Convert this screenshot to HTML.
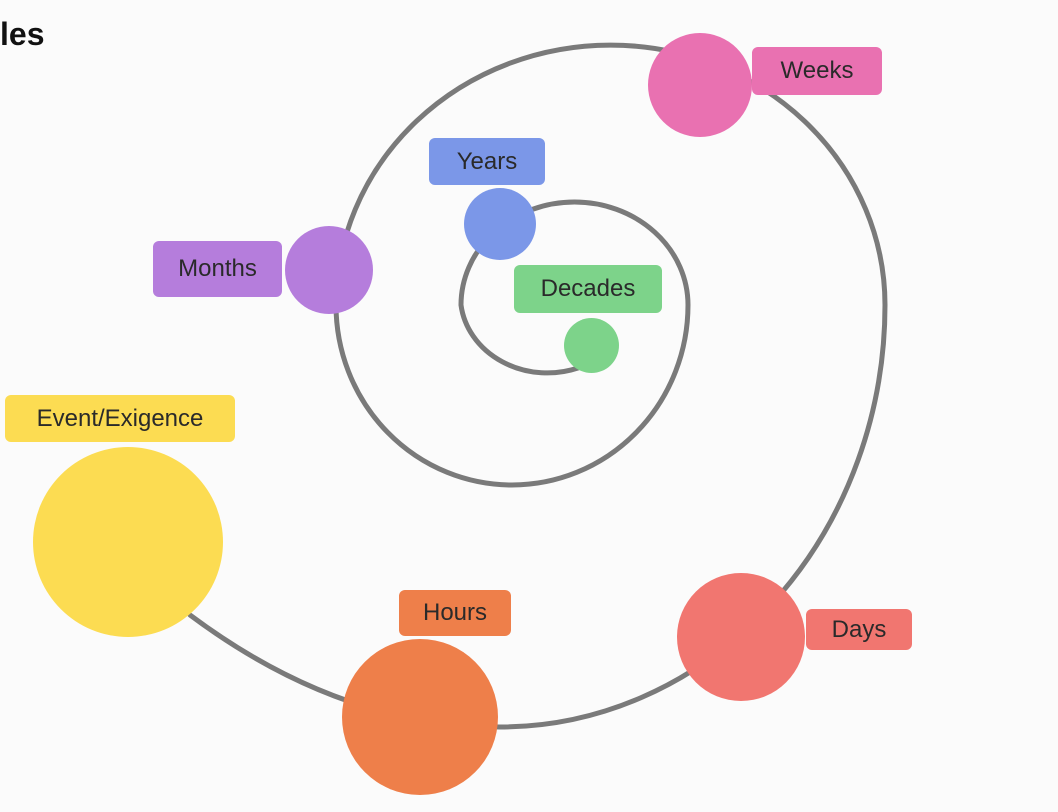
<!DOCTYPE html>
<html><head><meta charset="utf-8"><style>
html,body{margin:0;padding:0;background:#fbfbfb;}
body{width:1058px;height:812px;position:relative;overflow:hidden;font-family:"Liberation Sans",sans-serif;}
.lb{position:absolute;border-radius:6px;color:#2a2a2a;font-size:24px;display:flex;align-items:center;justify-content:center;}
.c{position:absolute;border-radius:50%;}
</style></head><body>
<div style="position:absolute;left:0;top:16px;font-size:32px;font-weight:bold;color:#111">les</div>
<svg width="1058" height="812" style="position:absolute;left:0;top:0">
<path fill="none" stroke="#7a7a7a" stroke-width="5" stroke-linecap="round"
d="M578,368 A87 77 0 0 1 461,305 A113.5 103 0 0 1 688,305 A176 180 0 0 1 336,305 A274.5 260 0 0 1 885,305 A385 422 0 0 1 500,727 Q340,727 190,615"/>
</svg>
<div class="c" style="left:648px;top:33px;width:104px;height:104px;background:#e971b1"></div>
<div class="c" style="left:464px;top:188px;width:72px;height:72px;background:#7b97e8"></div>
<div class="c" style="left:285px;top:226px;width:88px;height:88px;background:#b57ddc"></div>
<div class="c" style="left:564px;top:318px;width:55px;height:55px;background:#7dd38a"></div>
<div class="c" style="left:33px;top:447px;width:190px;height:190px;background:#fcdc52"></div>
<div class="c" style="left:342px;top:639px;width:156px;height:156px;background:#ee7f4a"></div>
<div class="c" style="left:677px;top:573px;width:128px;height:128px;background:#f17670"></div>
<div class="lb" style="left:752px;top:47px;width:130px;height:48px;background:#e971b1">Weeks</div>
<div class="lb" style="left:429px;top:138px;width:116px;height:47px;background:#7b97e8">Years</div>
<div class="lb" style="left:153px;top:241px;width:129px;height:56px;background:#b57ddc">Months</div>
<div class="lb" style="left:514px;top:265px;width:148px;height:48px;background:#7dd38a">Decades</div>
<div class="lb" style="left:5px;top:395px;width:230px;height:47px;background:#fcdc52">Event/Exigence</div>
<div class="lb" style="left:399px;top:590px;width:112px;height:46px;background:#ee7f4a">Hours</div>
<div class="lb" style="left:806px;top:609px;width:106px;height:41px;background:#f17670">Days</div>
</body></html>
